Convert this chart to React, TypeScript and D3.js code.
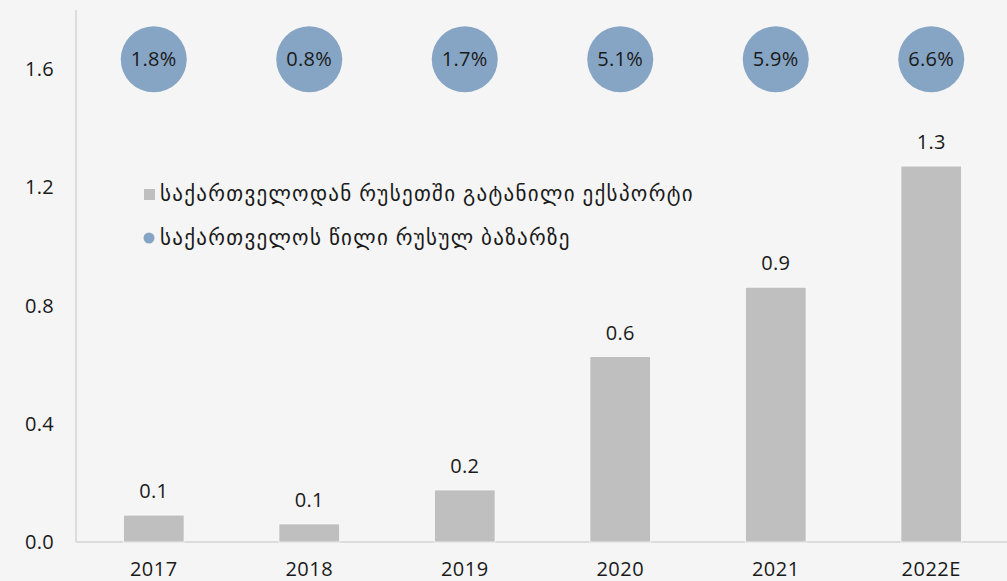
import React from 'react';
import * as d3 from 'd3';

const years = ['2017', '2018', '2019', '2020', '2021', '2022E'];
const exportsBn = [0.091, 0.061, 0.176, 0.627, 0.862, 1.272];
const exportLabels = ['0.1', '0.1', '0.2', '0.6', '0.9', '1.3'];
const shareLabels = ['1.8%', '0.8%', '1.7%', '5.1%', '5.9%', '6.6%'];
const yTicks = [0, 0.4, 0.8, 1.2, 1.6];
const legendItems = [
  'საქართველოდან რუსეთში გატანილი ექსპორტი',
  'საქართველოს წილი რუსულ ბაზარზე',
];

const W = 1007;
const H = 581;
const FONT = "'Open Sans', 'DejaVu Sans', sans-serif";
const BAR = '#bfbfbf';
const DOT = '#86a5c4';
const INK = '#1a1a1a';

export default function App() {
  const x = d3.scaleBand().domain(years).range([76, 1009]).paddingInner(0.61).paddingOuter(0.305);
  const y = d3.scaleLinear().domain([0, 1.8]).range([542, 10]);
  const dotY = y(1.633);

  return (
    <svg width={W} height={H} style={{ position: 'absolute', left: 0, top: 0 }} fontFamily={FONT}>
      <rect width={W} height={H} fill="#f5f5f5" />
      {/* axes */}
      <line x1={76} x2={76} y1={y(1.8)} y2={y(0)} stroke="#dcdcdc" strokeWidth={2} />
      <line x1={76} x2={W} y1={y(0)} y2={y(0)} stroke="#dcdcdc" strokeWidth={2} />
      {yTicks.map((t) => (
        <text key={t} x={54} y={y(t)} dy="0.35em" textAnchor="end" fontSize={20} letterSpacing={0.3} fill={INK}>
          {d3.format('.1f')(t)}
        </text>
      ))}
      {years.map((yr, i) => {
        const bx = x(yr) as number;
        const cx = bx + x.bandwidth() / 2;
        return (
          <g key={yr}>
            <rect x={bx} y={y(exportsBn[i])} width={x.bandwidth()} height={y(0) - y(exportsBn[i])}
              fill={BAR} stroke="#ffffff" strokeWidth={0.7} />
            <text x={cx} y={y(exportsBn[i]) - 17} textAnchor="middle" fontSize={20} letterSpacing={0.3} fill={INK}>
              {exportLabels[i]}
            </text>
            <text x={cx} y={576} textAnchor="middle" fontSize={20} letterSpacing={0.5} fill={INK}>{yr}</text>
            <circle cx={cx} cy={dotY} r={33} fill={DOT} />
            <text x={cx} y={dotY} dy="0.35em" textAnchor="middle" fontSize={20} letterSpacing={0.3} fill={INK}>
              {shareLabels[i]}
            </text>
          </g>
        );
      })}
      {/* legend */}
      <rect x={144} y={189} width={11} height={11} fill={BAR} />
      <text x={160} y={194} dy="0.35em" fontSize={21} letterSpacing={1.3} fill={INK}>{legendItems[0]}</text>
      <circle cx={149} cy={238} r={5.5} fill={DOT} />
      <text x={160} y={238} dy="0.35em" fontSize={21} letterSpacing={1.3} fill={INK}>{legendItems[1]}</text>
    </svg>
  );
}
